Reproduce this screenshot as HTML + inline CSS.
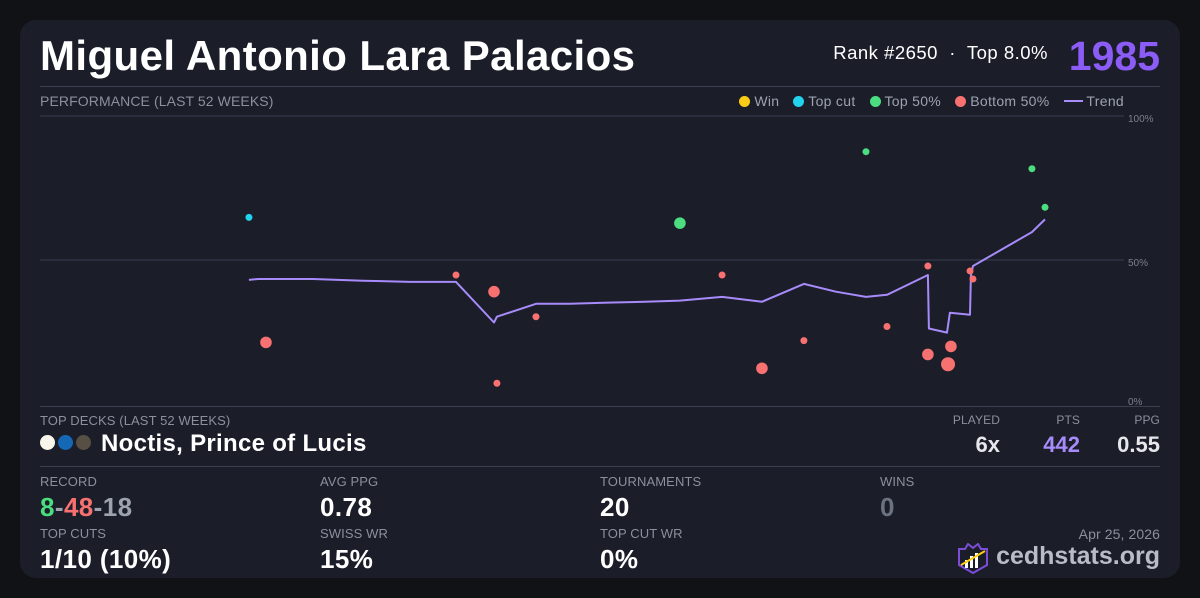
<!DOCTYPE html>
<html><head><meta charset="utf-8"><style>
*{margin:0;padding:0;box-sizing:border-box}
body{width:1200px;height:598px;background:#111216;font-family:"Liberation Sans",sans-serif;position:relative;overflow:hidden}
#card{position:absolute;left:20px;top:20px;width:1160px;height:558px;background:#1b1d29;border-radius:16px}
.a{position:absolute;white-space:nowrap}
.lbl{font-size:13px;color:#8b909c;letter-spacing:0.1px}
.val{font-size:26px;font-weight:bold;color:#fff;letter-spacing:0.4px}
.hr{position:absolute;left:40px;width:1120px;height:1px;background:#3a4050}
</style></head><body>
<div id="card"></div>
<div class="a" style="left:40px;top:32px;font-size:42px;font-weight:bold;color:#fff;letter-spacing:0.4px">Miguel Antonio Lara Palacios</div>
<div class="a" style="right:152px;top:42px;font-size:18.5px;color:#fff;letter-spacing:0.5px">Rank #2650 &nbsp;·&nbsp; Top 8.0%</div>
<div class="a" style="right:40px;top:33px;font-size:41px;font-weight:bold;color:#8b5cf6">1985</div>
<div class="hr" style="top:86px"></div>
<div class="a lbl" style="left:40px;top:93px;font-size:14px">PERFORMANCE (LAST 52 WEEKS)</div>
<div class="a" style="right:76px;top:93px;font-size:14px;color:#9ca3af;display:flex;gap:14px;align-items:center;letter-spacing:0.3px">
<span><span style="display:inline-block;width:11px;height:11px;border-radius:50%;background:#facc15;vertical-align:-1px"></span> Win</span>
<span><span style="display:inline-block;width:11px;height:11px;border-radius:50%;background:#22d3ee;vertical-align:-1px"></span> Top cut</span>
<span><span style="display:inline-block;width:11px;height:11px;border-radius:50%;background:#4ade80;vertical-align:-1px"></span> Top 50%</span>
<span><span style="display:inline-block;width:11px;height:11px;border-radius:50%;background:#f87171;vertical-align:-1px"></span> Bottom 50%</span>
<span><span style="display:inline-block;width:19px;height:2px;background:#a78bfa;vertical-align:4px"></span> Trend</span>
</div>
<svg id="chart" width="1200" height="598" style="position:absolute;left:0;top:0"></svg>
<div class="hr" style="top:406px"></div>
<div class="a lbl" style="left:40px;top:413px">TOP DECKS (LAST 52 WEEKS)</div>
<div class="a" style="left:40px;top:435px;display:flex;gap:3px">
<span style="width:15px;height:15px;border-radius:50%;background:#f8f6ea"></span><span style="width:15px;height:15px;border-radius:50%;background:#1468b5"></span><span style="width:15px;height:15px;border-radius:50%;background:#574e44"></span></div>
<div class="a" style="left:101px;top:430px;font-size:24px;font-weight:bold;color:#fff;letter-spacing:0.3px">Noctis, Prince of Lucis</div>
<div class="a lbl" style="right:200px;top:413px;font-size:12px">PLAYED</div>
<div class="a lbl" style="right:120px;top:413px;font-size:12px">PTS</div>
<div class="a lbl" style="right:40px;top:413px;font-size:12px">PPG</div>
<div class="a" style="right:200px;top:432px;font-size:22px;font-weight:bold;color:#e5e7eb">6x</div>
<div class="a" style="right:120px;top:432px;font-size:22px;font-weight:bold;color:#a78bfa">442</div>
<div class="a" style="right:40px;top:432px;font-size:22px;font-weight:bold;color:#e5e7eb">0.55</div>
<div class="hr" style="top:466px"></div>
<div class="a lbl" style="left:40px;top:474px">RECORD</div>
<div class="a val" style="left:40px;top:492px"><span style="color:#4ade80">8</span><span style="color:#9ca3af">-</span><span style="color:#f87171">48</span><span style="color:#9ca3af">-18</span></div>
<div class="a lbl" style="left:320px;top:474px">AVG PPG</div>
<div class="a val" style="left:320px;top:492px">0.78</div>
<div class="a lbl" style="left:600px;top:474px">TOURNAMENTS</div>
<div class="a val" style="left:600px;top:492px">20</div>
<div class="a lbl" style="left:880px;top:474px">WINS</div>
<div class="a val" style="left:880px;top:492px;color:#6b7280">0</div>
<div class="a lbl" style="left:40px;top:526px">TOP CUTS</div>
<div class="a val" style="left:40px;top:544px">1/10 (10%)</div>
<div class="a lbl" style="left:320px;top:526px">SWISS WR</div>
<div class="a val" style="left:320px;top:544px">15%</div>
<div class="a lbl" style="left:600px;top:526px">TOP CUT WR</div>
<div class="a val" style="left:600px;top:544px">0%</div>
<div class="a lbl" style="right:40px;top:526px;font-size:14px">Apr 25, 2026</div>
<svg class="a" style="left:956px;top:543px" width="34" height="32" viewBox="0 0 34 32">
<path d="M3 6 L9 6 L12 1 L17 5 L22 1 L25 6 L31 6 L31 22 L17 30 L3 22 Z" fill="none" stroke="#7c4dd8" stroke-width="2"/>
<rect x="9" y="17" width="3" height="8" fill="#fff"/><rect x="14" y="13" width="3" height="12" fill="#fff"/><rect x="19" y="10" width="3" height="15" fill="#fff"/>
<line x1="5" y1="22" x2="29" y2="8" stroke="#facc15" stroke-width="2"/></svg>
<div class="a" style="right:40px;top:542px;font-size:25px;font-weight:bold;color:#b8bcc6">cedhstats.org</div>
<script>
const weeks=[10.06,10.88,20.03,21.86,22.0,23.88,30.81,32.84,34.76,36.78,39.77,40.78,42.75,42.75,43.86,43.72,44.78,44.92,47.76,48.39];
const values=[64.8,21.4,44.8,39,7.2,30.3,62.8,44.8,12.4,22,87.6,26.9,17.2,47.9,20,13.8,46.2,43.4,81.7,68.3];
const outcomes=["topcut","bottom","bottom","bottom","bottom","bottom","top50","bottom","bottom","bottom","top50","bottom","bottom","bottom","bottom","bottom","bottom","bottom","top50","top50"];
const sizes=[1,2,1,2,1,1,2,1,2,1,1,1,2,1,2,3,1,1,1,1];
const trendWeeks=[10.06,10.5,13.14,15.55,17.81,20.03,21.86,22.0,23.88,25.52,27.35,29.13,30.81,32.84,34.76,36.78,38.32,39.77,40.78,42.75,42.8,43.67,43.81,44.78,44.82,44.92,47.76,48.39];
const trendValues=[43.1,43.4,43.4,42.8,42.4,42.4,28.3,30.3,34.8,34.8,35.2,35.5,35.9,37.2,35.5,41.7,39.0,37.2,37.9,44.8,26.2,24.8,31.7,31.0,44.5,47.9,59.7,64.1];
const yTicks=[100,50,0];
const yTickLabels=["100%","50%","0%"];
const colors={win:"#facc15",topcut:"#22d3ee",top50:"#4ade80",bottom:"#f87171"};
const NS="http://www.w3.org/2000/svg";
const svg=document.getElementById('chart');
const xS=w=>40+w*(1080/52);
const yS=v=>404-v*2.88;
function mk(t,a){const e=document.createElementNS(NS,t);for(const k in a)e.setAttribute(k,a[k]);svg.appendChild(e);return e;}
yTicks.forEach((t,i)=>{
  if(t>0){const l=mk('line',{x1:40,x2:1124,y1:yS(t),y2:yS(t),stroke:'#3a4050','stroke-width':1});
  
  }
  const tx=mk('text',{x:1128,y:t===0?405:yS(t)+6,fill:'#7b808c','font-size':10,'font-family':'Liberation Sans'});
  tx.textContent=yTickLabels[i];
  
  
});
const pts=trendWeeks.map((w,i)=>xS(w).toFixed(1)+','+yS(trendValues[i]).toFixed(1)).join(' ');
const pl=mk('polyline',{points:pts,fill:'none',stroke:'#a78bfa','stroke-width':2,'stroke-linejoin':'round'});


weeks.forEach((w,i)=>{
  const c=mk('circle',{cx:xS(w),cy:yS(values[i]),r:[0,3.5,5.8,7][sizes[i]],fill:colors[outcomes[i]]});
  
  
});
</script>
</body></html>
